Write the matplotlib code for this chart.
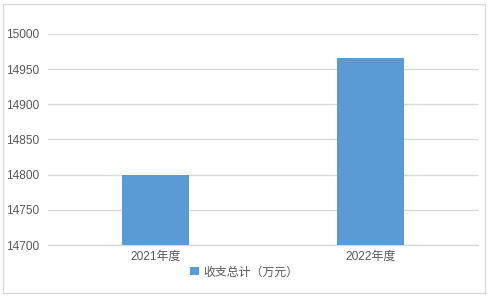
import matplotlib.pyplot as plt
from matplotlib.patches import Rectangle

plt.rcParams['font.family'] = ['Liberation Sans', 'Noto Sans CJK SC']

categories = ['2021年度', '2022年度']
values = [14800, 14965]
series_name = '收支总计（万元）'
yticks = [14700, 14750, 14800, 14850, 14900, 14950, 15000]

fig = plt.figure(figsize=(4.89, 2.97), dpi=100)
fig.patches.append(Rectangle((0.006, 0.012), 0.986, 0.975, transform=fig.transFigure,
                             fill=False, edgecolor='#d9d9d9', linewidth=1))
ax = fig.add_axes([0.098, 0.175, 0.880, 0.711])

x = [0, 1]
ax.bar(x, values, width=0.31, color='#5b9bd5', label=series_name, zorder=3)
ax.set_xlim(-0.5, 1.5)
ax.set_ylim(14700, 15000)
ax.set_yticks(yticks)
ax.set_xticks(x)
ax.set_xticklabels(categories)
ax.grid(axis='y', color='#d9d9d9', linewidth=1, zorder=0)
ax.axhline(14700, color='#d9d9d9', linewidth=1, clip_on=False, zorder=1)
for s in ax.spines.values():
    s.set_visible(False)
ax.tick_params(axis='both', length=0, labelsize=8.6, labelcolor='#595959')
ax.tick_params(axis='y', pad=6)
ax.tick_params(axis='x', pad=4)

fig.legend(loc='center', bbox_to_anchor=(0.5, 0.083), frameon=False,
           fontsize=8.6, labelcolor='#595959', handlelength=0.7, handleheight=0.7,
           handletextpad=0.4)

fig.savefig('out.png', dpi=100)
